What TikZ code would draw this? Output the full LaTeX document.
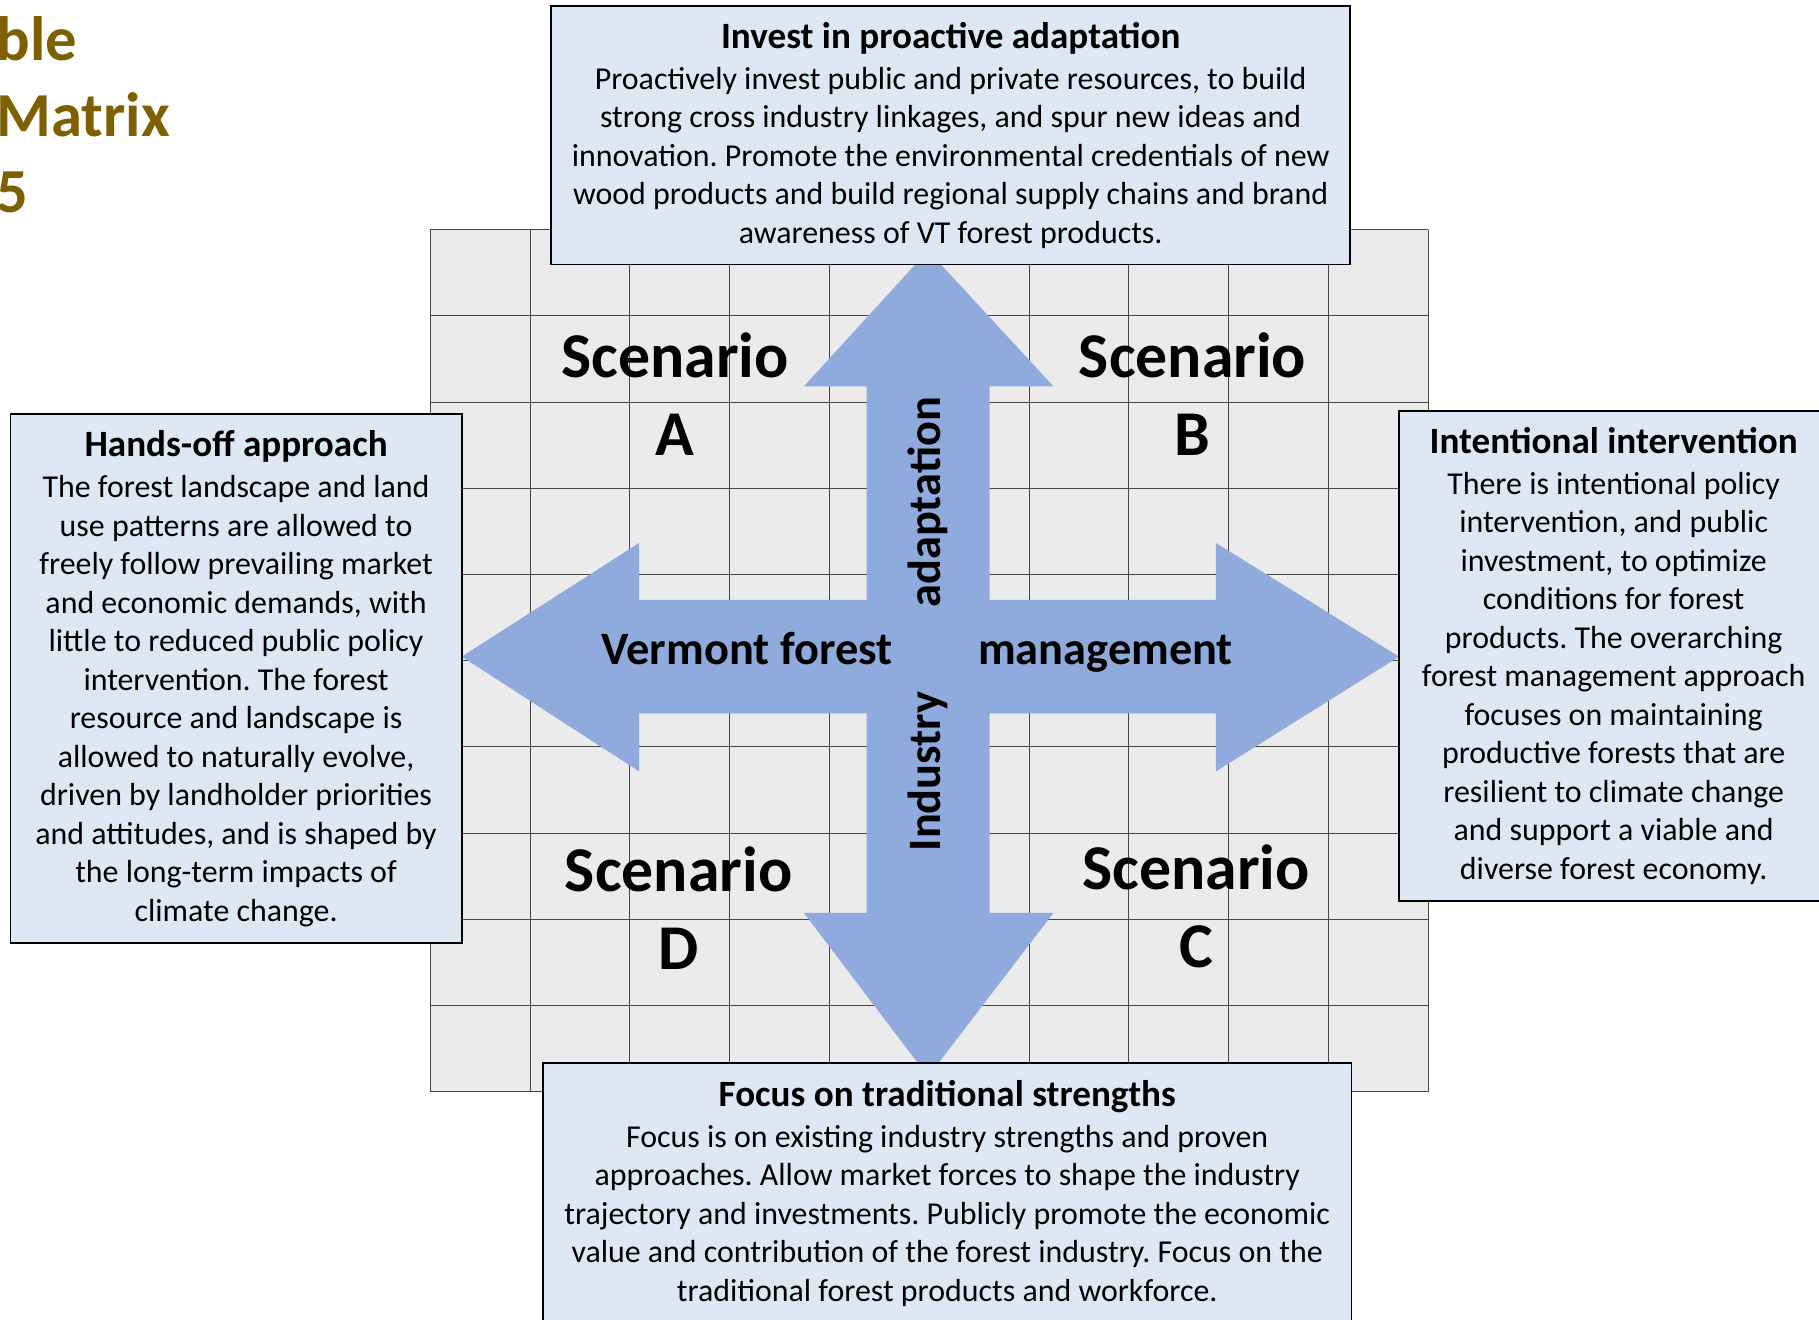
\documentclass[tikz,border=0pt]{standalone}
\usepackage{fontspec}
\setmainfont{Carlito}
\usetikzlibrary{positioning}
\frenchspacing

\definecolor{gridgray}{RGB}{235,235,235}
\definecolor{gridline}{RGB}{70,70,70}
\definecolor{boxblue}{RGB}{222,232,245}
\definecolor{arrowblue}{RGB}{143,170,220}
\definecolor{titlebrown}{RGB}{127,96,0}

\tikzset{basic/.style={draw,line width=1.6pt,fill=boxblue,
                       align=center,inner sep=0pt}}
\tikzset{infobox/.style={basic,font=\fontsize{27.5}{33.2}\selectfont}}
\tikzset{bigarrow/.style={fill=arrowblue}}
\tikzset{gridlines/.style={draw=gridline,line width=0.8pt}}
\tikzset{scenario/.style={align=center,inner sep=0pt,
                          font=\bfseries\fontsize{55}{67}\selectfont}}
\tikzset{axislabel/.style={inner sep=0pt,font=\bfseries\fontsize{40}{48}\selectfont}}
\tikzset{titletext/.style={inner sep=0pt,text=titlebrown,
                           font=\bfseries\fontsize{54}{65}\selectfont}}
\newcommand{\boxtitle}[1]{{\bfseries\fontsize{32}{34}\selectfont #1}\\[2pt]}

\begin{document}
\begin{tikzpicture}[x=1pt,y=-1pt]
    \useasboundingbox (0,0) rectangle (1568,1137);

    % title, cut at the page edge
    \foreach \t [count=\ti] in {ble,Matrix,5}{
        \node[titletext,anchor=base west] (title\ti) at (-3,{52+65.5*(\ti-1)}) {\t};
    }

    % grid
    \fill[gridgray] (371,198) rectangle (1231,941);
    \foreach \i in {0,...,10}{
        \draw[gridlines] ({371+86*\i},198) -- ({371+86*\i},941);
        \draw[gridlines] (371,{198+74.3*\i}) -- (1231,{198+74.3*\i});
    }

    % scenarios
    \foreach \s/\x/\y in {A/582/340,B/1028/340,D/585/783,C/1031/781}{
        \node[scenario] (sc\s) at (\x,\y) {Scenario\\\s};
    }

    % arrows
    \fill[bigarrow] (398,566) -- (551,468) -- (551,517) -- (1048,517)
        -- (1048,468) -- (1206,566) -- (1048,665) -- (1048,615)
        -- (551,615) -- (551,665) -- cycle;
    \fill[bigarrow] (800,216) -- (908,333) -- (853,333) -- (853,787)
        -- (908,787) -- (800,928) -- (693,787) -- (747,787)
        -- (747,333) -- (693,333) -- cycle;

    % axis labels
    \node[axislabel,anchor=base] (vermont) at (644,573) {Vermont forest};
    \node[axislabel,anchor=base] (mgmt) at (953,573) {management};
    \node[axislabel,rotate=90,anchor=base] (adapt) at (811,433) {adaptation};
    \node[axislabel,rotate=90,anchor=base] (industry) at (811,665) {Industry};

    % boxes
    \node[infobox,minimum width=689pt,minimum height=223pt] (invest) at (819.5,116.5)
        {\boxtitle{Invest in proactive adaptation}
         Proactively invest public and private resources, to build\\
         strong cross industry linkages, and spur new ideas and\\
         innovation. Promote the environmental credentials of new\\
         wood products and build regional supply chains and brand\\
         awareness of VT forest products.};
    \node[infobox,minimum width=389pt,minimum height=456pt] (handsoff) at (203.5,585)
        {\boxtitle{Hands-off approach}
         The forest landscape and land\\
         use patterns are allowed to\\
         freely follow prevailing market\\
         and economic demands, with\\
         little to reduced public policy\\
         intervention. The forest\\
         resource and landscape is\\
         allowed to naturally evolve,\\
         driven by landholder priorities\\
         and attitudes, and is shaped by\\
         the long-term impacts of\\
         climate change.};
    \node[infobox,minimum width=370pt,minimum height=423pt] (intervene) at (1391,565.5)
        {\boxtitle{Intentional intervention}
         There is intentional policy\\
         intervention, and public\\
         investment, to optimize\\
         conditions for forest\\
         products. The overarching\\
         forest management approach\\
         focuses on maintaining\\
         productive forests that are\\
         resilient to climate change\\
         and support a viable and\\
         diverse forest economy.};
    \node[infobox,minimum width=697pt,minimum height=225pt] (tradition) at (816.5,1028.5)
        {\boxtitle{Focus on traditional strengths}
         Focus is on existing industry strengths and proven\\
         approaches. Allow market forces to shape the industry\\
         trajectory and investments. Publicly promote the economic\\
         value and contribution of the forest industry. Focus on the\\
         traditional forest products and workforce.};
\end{tikzpicture}
\end{document}
